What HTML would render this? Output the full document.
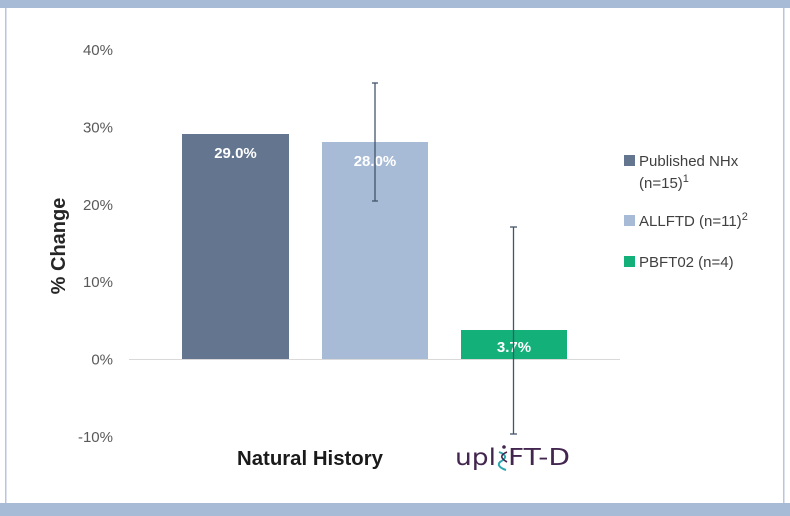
<!DOCTYPE html>
<html>
<head>
<meta charset="utf-8">
<style>
html,body{margin:0;padding:0;background:#fff;}
body{width:790px;height:516px;overflow:hidden;}
svg{display:block;}
</style>
</head>
<body>
<svg width="790" height="516" viewBox="0 0 790 516" xmlns="http://www.w3.org/2000/svg">
  <rect x="0" y="0" width="790" height="516" fill="#ffffff"/>
  <!-- frame -->
  <rect x="0" y="0" width="790" height="8" fill="#a7bbd6"/>
  <rect x="0" y="503" width="790" height="13" fill="#a7bbd6"/>
  <rect x="5" y="8" width="1.5" height="495" fill="#b7c6dc"/>
  <rect x="783" y="8" width="1.5" height="495" fill="#b7c6dc"/>

  <!-- y tick labels -->
  <g font-family="Liberation Sans, sans-serif" font-size="15" fill="#595959" text-anchor="end">
    <text x="113" y="55">40%</text>
    <text x="113" y="132.5">30%</text>
    <text x="113" y="210">20%</text>
    <text x="113" y="287">10%</text>
    <text x="113" y="364.5">0%</text>
    <text x="113" y="442">-10%</text>
  </g>

  <!-- y axis title -->
  <text transform="translate(65,246) rotate(-90)" font-family="Liberation Sans, sans-serif" font-size="20" font-weight="bold" fill="#262626" text-anchor="middle">% Change</text>

  <!-- zero line -->
  <line x1="129" y1="359.5" x2="620" y2="359.5" stroke="#d9d9d9" stroke-width="1"/>

  <!-- bars -->
  <rect x="182" y="134" width="107" height="225" fill="#64758f"/>
  <rect x="322" y="142" width="106" height="217" fill="#a7bad6"/>
  <rect x="461" y="330" width="106" height="29" fill="#13b07a"/>

  <!-- data labels -->
  <g font-family="Liberation Sans, sans-serif" font-size="15" font-weight="bold" fill="#ffffff" text-anchor="middle">
    <text x="235.5" y="158">29.0%</text>
    <text x="375" y="166">28.0%</text>
    <text x="514" y="352">3.7%</text>
  </g>

  <!-- error bars -->
  <g stroke="#44546a" stroke-width="1.3" fill="none">
    <line x1="375" y1="83" x2="375" y2="201"/>
    <line x1="372" y1="83" x2="378" y2="83"/>
    <line x1="372" y1="201" x2="378" y2="201"/>
    <line x1="513.5" y1="227" x2="513.5" y2="434"/>
    <line x1="510" y1="227" x2="517" y2="227"/>
    <line x1="510" y1="434" x2="517" y2="434"/>
  </g>

  <!-- category labels -->
  <text x="310" y="465" font-family="Liberation Sans, sans-serif" font-size="20" font-weight="bold" fill="#1a1a1a" text-anchor="middle" textLength="146" lengthAdjust="spacingAndGlyphs">Natural History</text>

  <!-- upliFT-D logo -->
  <g font-family="DejaVu Sans, Liberation Sans, sans-serif" font-size="23" fill="#43264f">
    <text x="455" y="465" textLength="41" lengthAdjust="spacingAndGlyphs">upl</text>
    <text x="508" y="465" textLength="62" lengthAdjust="spacingAndGlyphs">FT-D</text>
  </g>
  <!-- helix "i" -->
  <circle cx="504" cy="447" r="1.8" fill="#43264f"/>
  <path d="M499,452 C507,455 507,458 500,462 C497,465 500,468 506,470" stroke="#2aa8b0" stroke-width="2" fill="none"/>
  <path d="M507,452 C500,455 500,458 507,462" stroke="#43264f" stroke-width="1.6" fill="none"/>

  <!-- legend -->
  <g font-family="Liberation Sans, sans-serif" font-size="15" fill="#404040">
    <rect x="624" y="155" width="11" height="11" fill="#64758f"/>
    <text x="639" y="166">Published NHx</text>
    <text x="639" y="188">(n=15)<tspan font-size="11" dy="-6">1</tspan></text>
    <rect x="624" y="215" width="11" height="11" fill="#a7bad6"/>
    <text x="639" y="226">ALLFTD (n=11)<tspan font-size="11" dy="-6">2</tspan></text>
    <rect x="624" y="256" width="11" height="11" fill="#13b07a"/>
    <text x="639" y="267">PBFT02 (n=4)</text>
  </g>
</svg>
</body>
</html>
